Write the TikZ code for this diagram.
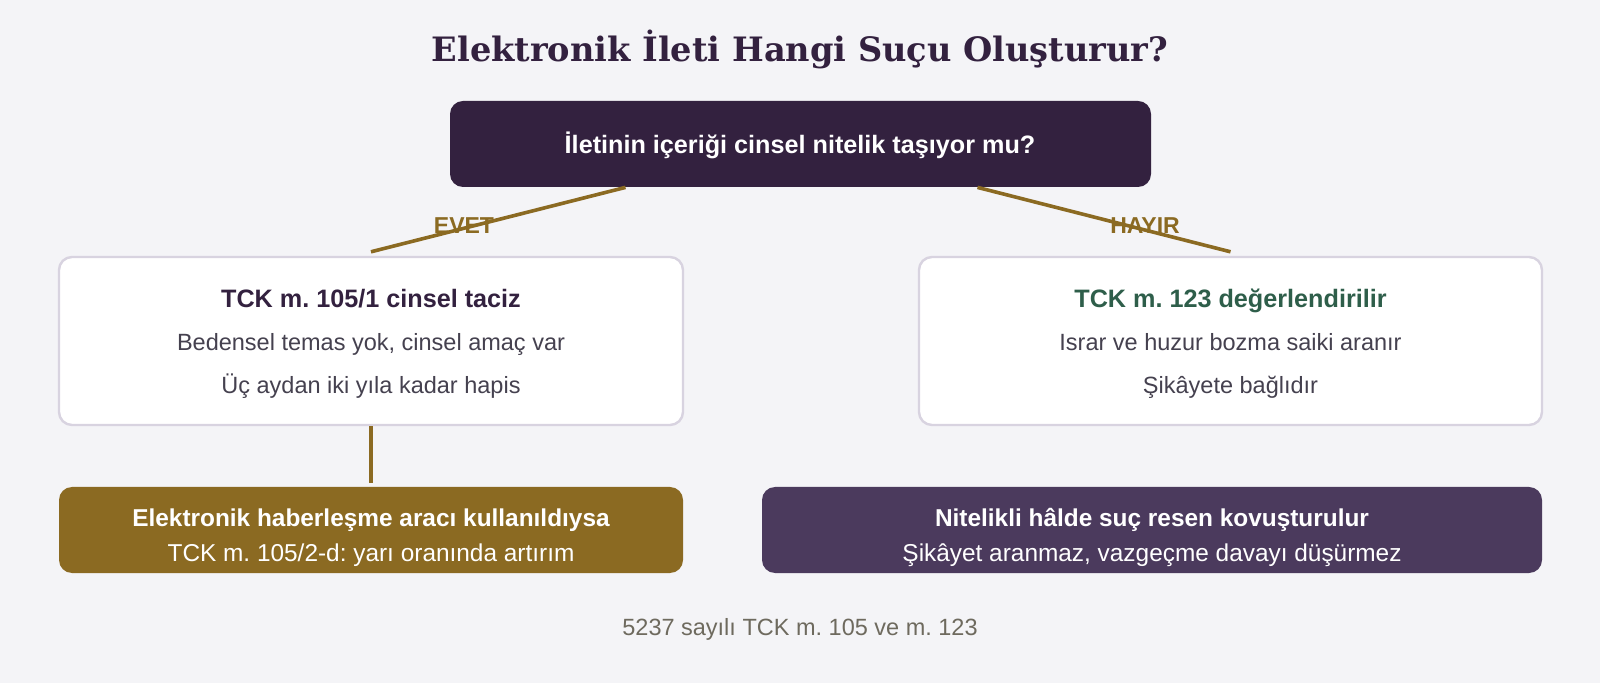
\documentclass[tikz,border=0pt]{standalone}
\usepackage{fontspec}
\setmainfont{Liberation Sans}
\newfontfamily\headfont{DejaVu Serif}
\definecolor{bgc}{HTML}{F4F4F7}
\definecolor{plum}{HTML}{33213F}
\definecolor{gold}{HTML}{8B6A22}
\definecolor{dusk}{HTML}{4B3A5D}
\definecolor{moss}{HTML}{2E5E4A}
\definecolor{edge}{HTML}{D8D3E0}
\definecolor{ink}{HTML}{45414F}
\definecolor{note}{HTML}{6E6A5E}
\frenchspacing
\begin{document}
\begin{tikzpicture}[x=0.5pt,y=-0.5pt,
 box/.style={rounded corners=6.5pt,inner sep=0pt},
 darkbox/.style={box,fill=plum},
 cardbox/.style={box,fill=white,draw=edge,line width=1.2pt},
 link/.style={draw=gold,line width=1.8pt},
 txt/.style={anchor=base,inner sep=0pt},
 head/.style={font=\headfont\bfseries\fontsize{16.8}{20}\selectfont,text=plum},
 ttl/.style={font=\bfseries\fontsize{12.6}{15}\selectfont},
 body/.style={font=\fontsize{11.75}{14}\selectfont,text=ink},
 btitle/.style={font=\bfseries\fontsize{12.2}{14}\selectfont,text=white},
 bbody/.style={font=\fontsize{12.2}{14}\selectfont,text=white},
 lbl/.style={font=\bfseries\fontsize{11.5}{14}\selectfont,text=gold}]
 \fill[bgc](0,0) rectangle (1600,683);
 \node[txt,head] (title) at (800,62) {Elektronik İleti Hangi Suçu Oluşturur?};
 \node[darkbox,minimum width=350.5pt,minimum height=43pt] (q) at (800.5,144) {};
 \node[txt,ttl,text=white] (qt) at (800,154) {İletinin içeriği cinsel nitelik taşıyor mu?};
 \node[cardbox,minimum width=312pt,minimum height=84pt] (yes) at (371,341) {};
 \node[txt,ttl,text=plum] (yest) at (371,307.5) {TCK m. 105/1 cinsel taciz};
 \node[txt,body] (yes1) at (371,350.7) {Bedensel temas yok, cinsel amaç var};
 \node[txt,body] (yes2) at (371,393.3) {Üç aydan iki yıla kadar hapis};
 \node[cardbox,minimum width=311.5pt,minimum height=84pt] (no) at (1230.5,341) {};
 \node[txt,ttl,text=moss] (not) at (1230.5,307.5) {TCK m. 123 değerlendirilir};
 \node[txt,body] (no1) at (1230.5,350.7) {Israr ve huzur bozma saiki aranır};
 \node[txt,body] (no2) at (1230.5,393.3) {Şikâyete bağlıdır};
 \node[box,fill=gold,minimum width=312pt,minimum height=43pt] (ext) at (371,530) {};
 \node[txt,btitle] (extt) at (371,526.7) {Elektronik haberleşme aracı kullanıldıysa};
 \node[txt,bbody] (ext1) at (371,561.7) {TCK m. 105/2-d: yarı oranında artırım};
 \node[box,fill=dusk,minimum width=390pt,minimum height=43pt] (ag) at (1152,530) {};
 \node[txt,btitle] (agt) at (1152,526.7) {Nitelikli hâlde suç resen kovuşturulur};
 \node[txt,bbody] (ag1) at (1152,561.7) {Şikâyet aranmaz, vazgeçme davayı düşürmez};
 \node[txt,lbl] (evet) at (464,234) {EVET};
 \node[txt,lbl] (hayir) at (1145,234) {HAYIR};
 \draw[link] ([xshift=-87.5pt]q.south) -- ([yshift=2pt]yes.north);
 \draw[link] ([xshift=88.5pt]q.south) -- ([yshift=2pt]no.north);
 \draw[link] (yes.south) -- ([yshift=2pt]ext.north);
 \node[txt,font=\fontsize{11.75}{14}\selectfont,text=note] (src) at (800,635) {5237 sayılı TCK m. 105 ve m. 123};
\end{tikzpicture}
\end{document}
